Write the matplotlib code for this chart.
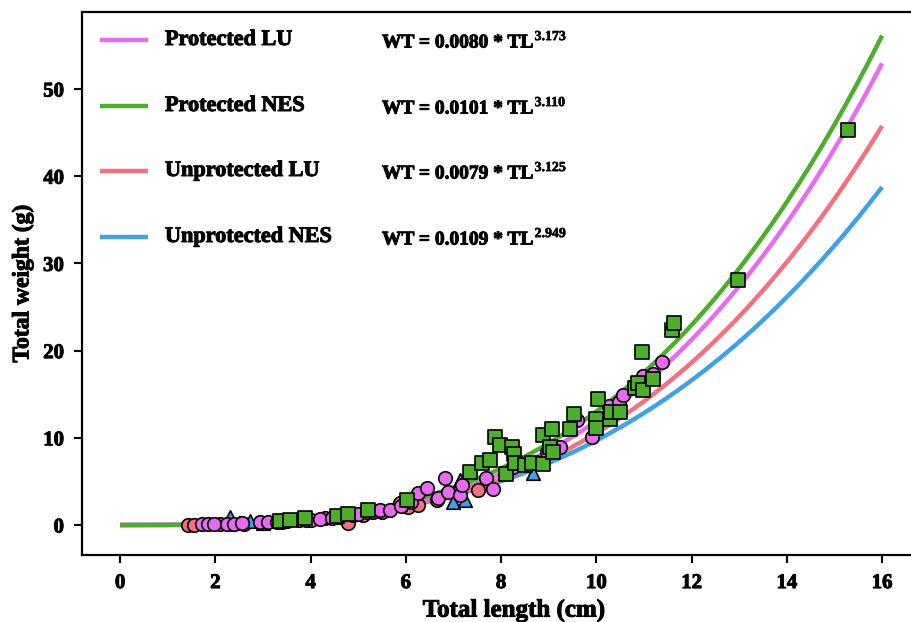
import numpy as np
import matplotlib
matplotlib.use("Agg")
import matplotlib.pyplot as plt
import matplotlib.patheffects as pe

# ---- Data ----
groups = ["Protected LU", "Protected NES", "Unprotected LU", "Unprotected NES"]
coef_a = [0.0080, 0.0101, 0.0079, 0.0109]
coef_b = [3.173, 3.110, 3.125, 2.949]
colors = ["#E86BEF", "#4DAE2C", "#F2707F", "#3FA2E6"]

# Protected LU (circles)
plu_tl = [1.72, 1.85, 1.98, 2.25, 2.40, 2.55, 2.94, 3.10, 3.30, 3.50, 3.75, 4.00, 4.20, 4.45,
          4.60, 4.89, 5.00, 5.19, 5.30, 5.46, 5.67, 5.90, 6.10, 6.26, 6.45, 6.68, 6.82, 6.89,
          7.14, 7.18, 7.68, 7.83, 8.25, 8.96, 9.24, 9.59, 9.91, 10.27, 10.48, 10.56, 10.98,
          11.19, 11.38]
plu_wt = [0.07, 0.09, 0.10, 0.12, 0.15, 0.18, 0.30, 0.32, 0.40, 0.45, 0.55, 0.60, 0.70, 0.85,
          0.90, 1.15, 1.30, 1.45, 1.50, 1.75, 1.75, 2.20, 2.60, 3.70, 4.20, 3.10, 5.40, 3.80,
          3.40, 4.60, 5.40, 4.10, 6.60, 8.40, 8.90, 12.00, 10.10, 13.60, 14.10, 14.90, 17.10,
          17.30, 18.70]

# Protected NES (squares)
pnes_tl = [3.36, 3.57, 3.88, 4.56, 4.79, 5.21, 6.03, 7.35, 7.60, 7.77, 7.87, 7.98, 8.10,
           8.23, 8.27, 8.29, 8.50, 8.65, 8.88, 8.88, 9.03, 9.07, 9.09, 9.45, 9.53, 9.99,
           9.99, 10.04, 10.29, 10.31, 10.50, 10.81, 10.88, 10.96, 10.98, 11.19, 11.59, 11.63,
           12.97, 15.28]
pnes_wt = [0.46, 0.57, 0.80, 1.03, 1.26, 1.72, 2.87, 6.08, 7.11, 7.45, 10.09, 9.17, 5.85,
           8.94, 8.14, 7.11, 6.88, 7.11, 10.32, 7.00, 8.94, 11.01, 8.37, 11.01, 12.73, 12.16,
           11.12, 14.45, 12.16, 12.96, 12.96, 15.71, 16.28, 19.84, 15.48, 16.74, 22.36, 23.17,
           28.10, 45.30]

# Unprotected LU (circles)
ulu_tl = [1.43, 1.55, 2.10, 2.35, 2.60, 3.00, 3.40, 3.90, 4.30, 4.70, 4.79, 5.10, 5.50,
          5.88, 6.05, 6.25, 6.66, 7.08, 7.52]
ulu_wt = [0.05, 0.05, 0.08, 0.10, 0.15, 0.25, 0.35, 0.55, 0.75, 0.95, 0.20, 1.20, 1.50,
          2.50, 2.10, 2.30, 2.90, 3.80, 4.00]

# Unprotected NES (triangles)
unes_tl = [2.31, 2.50, 2.73, 3.00, 5.88, 6.99, 7.14, 7.24, 8.67]
unes_wt = [0.95, 0.20, 0.50, 0.25, 2.40, 2.60, 5.20, 2.90, 6.00]

# ---- Figure ----
W, H = 912, 622
fig = plt.figure(figsize=(W / 100, H / 100), dpi=100)
ax_l, ax_r, ax_t, ax_b = 82, 946, 12, 555
ax = fig.add_axes([ax_l / W, 1 - ax_b / H, (ax_r - ax_l) / W, (ax_b - ax_t) / H])

FONT = "Liberation Serif"
plt.rcParams["font.family"] = FONT
heavy = [pe.withStroke(linewidth=0.7, foreground="black")]

x_fit = np.linspace(0, 16, 400)
draw_order = [3, 2, 0, 1]
for i in draw_order:
    ax.plot(x_fit, coef_a[i] * x_fit ** coef_b[i], color=colors[i], lw=3.2,
            solid_capstyle="butt", zorder=2)

ms = 95
ax.scatter(ulu_tl, ulu_wt, s=ms, marker="o", facecolor=colors[2], edgecolor="black",
           linewidths=1.2, zorder=3)
ax.scatter(unes_tl, unes_wt, s=ms, marker="^", facecolor=colors[3], edgecolor="black",
           linewidths=1.2, zorder=4)
ax.scatter(plu_tl, plu_wt, s=ms, marker="o", facecolor=colors[0], edgecolor="black",
           linewidths=1.2, zorder=5)
ax.scatter(pnes_tl, pnes_wt, s=ms, marker="s", facecolor=colors[1], edgecolor="black",
           linewidths=1.2, zorder=6)

# axis limits from pixel geometry (x=0 at px 120, 47.63 px per cm)
ax.set_xlim(-0.8, (ax_r - 120) / 47.63)
ax.set_ylim(-3.44, 58.83)
ax.set_xticks(range(0, 17, 2))
ax.set_yticks(range(0, 51, 10))
ax.spines["right"].set_visible(False)

for lab in ax.get_xticklabels() + ax.get_yticklabels():
    lab.set_fontfamily(FONT)
    lab.set_fontweight("bold")
    lab.set_fontsize(15)
    lab.set_path_effects(heavy)
ax.tick_params(direction="out", length=6, width=1.5, pad=7)
for s in ax.spines.values():
    s.set_linewidth(1.6)

xl = ax.set_xlabel("Total length (cm)", fontfamily=FONT, fontweight="bold", fontsize=18,
                   labelpad=4)
yl = ax.set_ylabel("Total weight (g)", fontfamily=FONT, fontweight="bold", fontsize=17,
                   labelpad=7)
xl.set_path_effects(heavy)
yl.set_path_effects(heavy)

# ---- Legend with equations ----
def fx(px):
    return (px - ax_l) / (ax_r - ax_l)

def fy(py):
    return (ax_b - py) / (ax_b - ax_t)

leg_y = [40, 106, 171, 237]
for i in range(4):
    y = fy(leg_y[i])
    ax.plot([fx(100), fx(148)], [y, y], transform=ax.transAxes, color=colors[i], lw=3.2,
            solid_capstyle="butt", clip_on=False, zorder=7)
    ax.text(fx(165), y, groups[i], transform=ax.transAxes, fontfamily=FONT,
            fontweight="bold", fontsize=16, va="center", ha="left", zorder=7,
            path_effects=heavy)
    t = ax.text(fx(382), fy(leg_y[i] + 3), "WT = %.4f * TL" % coef_a[i],
                transform=ax.transAxes, fontfamily=FONT, fontweight="bold", fontsize=14,
                va="center", ha="left", zorder=7, path_effects=heavy)
    ax.annotate("%.3f" % coef_b[i], xy=(1, 1), xycoords=t, xytext=(0.5, -1.5),
                textcoords="offset points", fontfamily=FONT, fontweight="bold",
                fontsize=10, ha="left", va="center", zorder=7,
                path_effects=[pe.withStroke(linewidth=0.4, foreground="black")])

fig.savefig("out.png", dpi=100)
